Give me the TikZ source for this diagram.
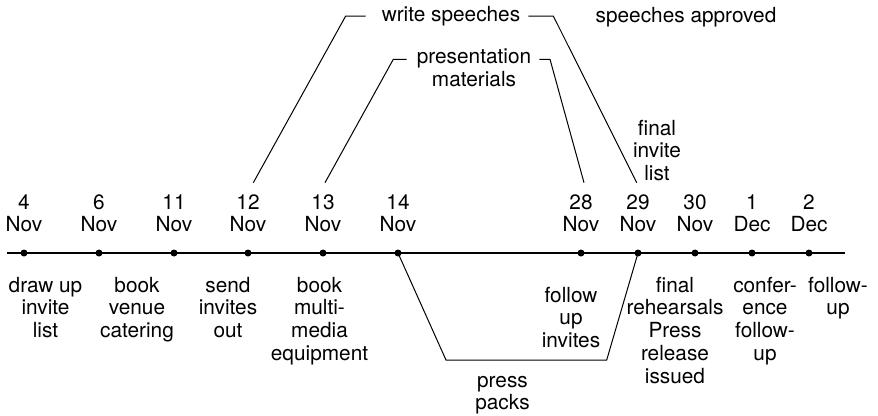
\documentclass[tikz,border=0pt]{standalone}
\usepackage{fontspec}
\setmainfont{TeX Gyre Heros}
\newcommand\mlines[1]{\vtop{\halign{\hfil##\hfil\cr#1\crcr}}}
\begin{document}
\begin{tikzpicture}[x=1pt,y=-1pt,
  lbl/.style={font=\fontsize{20.8}{22.8}\selectfont, inner sep=0pt, anchor=base},
  dot/.style={circle,fill=black,inner sep=0pt,minimum size=7pt},
  timeline/.style={line width=1.4pt},
  link/.style={line width=1pt}]
\useasboundingbox (0,0) rectangle (878,415);
% timeline
\coordinate (tlS) at (7,253);
\coordinate (tlE) at (845,253);
\draw[timeline] (tlS) -- (tlE);
% dots
\node[dot] (d4)  at (24,253) {};
\node[dot] (d6)  at (99,253) {};
\node[dot] (d11) at (174,253) {};
\node[dot] (d12) at (248,253) {};
\node[dot] (d13) at (323,253) {};
\node[dot] (d14) at (398,253) {};
\node[dot] (d28) at (581,253) {};
\node[dot] (d29) at (638,253) {};
\node[dot] (d30) at (695,253) {};
\node[dot] (d1)  at (752,253) {};
\node[dot] (d2)  at (809,253) {};
% dates
\node[lbl] (t4)  at (24,209)  {\mlines{4\cr Nov}};
\node[lbl] (t6)  at (99,209)  {\mlines{6\cr Nov}};
\node[lbl] (t11) at (174,209) {\mlines{11\cr Nov}};
\node[lbl] (t12) at (248,209) {\mlines{12\cr Nov}};
\node[lbl] (t13) at (323,209) {\mlines{13\cr Nov}};
\node[lbl] (t14) at (398,209) {\mlines{14\cr Nov}};
\node[lbl] (t28) at (581,209) {\mlines{28\cr Nov}};
\node[lbl] (t29) at (638,209) {\mlines{29\cr Nov}};
\node[lbl] (t30) at (695,209) {\mlines{30\cr Nov}};
\node[lbl] (t1)  at (752,209) {\mlines{1\cr Dec}};
\node[lbl] (t2)  at (809,209) {\mlines{2\cr Dec}};
% tasks below
\node[lbl] (a1) at (45.5,292) {\mlines{draw up\cr invite\cr list}};
\node[lbl] (a2) at (137,292)  {\mlines{book\cr venue\cr catering}};
\node[lbl] (a3) at (228,292)  {\mlines{send\cr invites\cr out}};
\node[lbl] (a4) at (319.5,292) {\mlines{book\cr multi-\cr media\cr equipment}};
\node[lbl] (a5) at (571,302)  {\mlines{follow\cr up\cr invites}};
\node[lbl] (a6) at (502.5,387) {\mlines{press\cr packs}};
\node[lbl] (a7) at (675,292)  {\mlines{final\cr rehearsals\cr Press\cr release\cr issued}};
\node[lbl] (a8) at (765,292)  {\mlines{confer-\cr ence\cr follow-\cr up}};
\node[lbl] (a9) at (838,292)  {\mlines{follow-\cr up}};
% tasks above
\node[lbl] (a10) at (657,135) {\mlines{final\cr invite\cr list}};
\node[lbl] (sa) at (686,22.5) {speeches approved};
\node[lbl] (ws) at (451,21.7) {write speeches};
\node[lbl] (pm) at (474,63.3) {\mlines{presentation\cr materials}};
% write speeches bracket
\coordinate (wsLa) at (365.7,16);
\coordinate (wsLb) at (345.7,16);
\coordinate (wsLc) at (253.3,182.7);
\coordinate (wsRa) at (528.3,16);
\coordinate (wsRb) at (553.3,16);
\coordinate (wsRc) at (636.7,182.7);
\draw[link] (wsLa) -- (wsLb) -- (wsLc);
\draw[link] (wsRa) -- (wsRb) -- (wsRc);
% presentation bracket
\coordinate (pmLa) at (406.7,59.3);
\coordinate (pmLb) at (393.3,59.3);
\coordinate (pmLc) at (325,182.7);
\coordinate (pmRa) at (539.3,59.3);
\coordinate (pmRb) at (550,59.3);
\coordinate (pmRc) at (584,182.7);
\draw[link] (pmLa) -- (pmLb) -- (pmLc);
\draw[link] (pmRa) -- (pmRb) -- (pmRc);
% press packs trapezoid
\coordinate (ppA) at (446,360);
\coordinate (ppB) at (606.7,360);
\draw[link] (d14.center) -- (ppA) -- (ppB) -- (d29.center);
\end{tikzpicture}
\end{document}
